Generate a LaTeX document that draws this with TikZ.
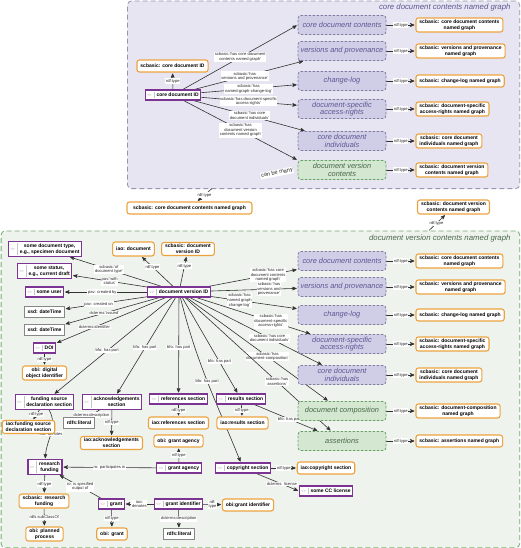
\documentclass[tikz,border=0pt]{standalone}
\usepackage{fontspec}
\setmainfont{Liberation Sans}
\usetikzlibrary{arrows,positioning}

\definecolor{purp}{RGB}{124,52,146}
\definecolor{orng}{RGB}{236,163,62}
\definecolor{litgray}{RGB}{135,135,135}
\definecolor{ngfill}{RGB}{208,205,230}
\definecolor{ngdraw}{RGB}{128,124,165}
\definecolor{ngtext}{RGB}{92,86,148}
\definecolor{gfill}{RGB}{212,231,208}
\definecolor{gdraw}{RGB}{102,163,102}
\definecolor{gtext}{RGB}{72,104,72}
\definecolor{topbg}{RGB}{230,229,241}
\definecolor{topline}{RGB}{150,147,176}
\definecolor{botbg}{RGB}{239,243,238}
\definecolor{botline}{RGB}{112,172,112}
\definecolor{wire}{RGB}{50,50,50}
\definecolor{icogray}{RGB}{160,160,160}

\newcommand\boxfont{\fontsize{5}{5.8}\selectfont\bfseries}
\newcommand\grfont{\fontsize{7.4}{7.6}\selectfont\itshape}
\newcommand\labfont{\fontsize{4.1}{4.6}\selectfont}
\newcommand\ttlfont{\fontsize{7.8}{8}\selectfont\itshape}
\newcommand\indivtext[1]{{\color{icogray}\fontsize{3.8}{4}\selectfont\mdseries<>}\hspace{2pt}{\color{icogray!60}\vrule width .4pt}\hspace{2.4pt}\begin{tabular}{@{}c@{}}#1\end{tabular}}

\pgfdeclarelayer{bg}
\pgfdeclarelayer{wires}
\pgfsetlayers{bg,wires,main}

\begin{document}
\begin{tikzpicture}[->,>=stealth',shorten >=1pt,x=1pt,y=-1pt]
 \tikzstyle{klass}=[draw=orng,line width=1.1pt,rounded corners=2.5pt,fill=white,text=black,
   font=\boxfont,align=center,inner xsep=3.5pt,inner ysep=1.8pt,minimum height=12pt]
 \tikzstyle{indiv}=[draw=purp,line width=1.1pt,fill=white,text=black,font=\boxfont,
   inner xsep=2pt,inner ysep=1.4pt,minimum height=10pt]
 \tikzstyle{literal}=[draw=litgray,line width=0.9pt,fill=white,text=black,font=\boxfont,
   inner xsep=3pt,minimum height=10.5pt]
 \tikzstyle{ngraph}=[draw=ngdraw,dash pattern=on 2.5pt off 1.5pt,line width=0.8pt,
   rounded corners=3pt,fill=ngfill,text=ngtext,font=\grfont,align=center,
   minimum width=88pt,minimum height=19pt,inner sep=1pt]
 \tikzstyle{ngreen}=[ngraph,draw=gdraw,fill=gfill,text=gtext]
 \tikzstyle{elab}=[fill=white,text=black!85,font=\labfont,align=center,inner sep=0.7pt]
 \tikzstyle{every edge}=[draw=wire,line width=0.6pt]
 \useasboundingbox (0,0) rectangle (520,548);

 % core document contents named graph
 \node[klass] (cdit) at (172.5,66) {scbasic: core document ID};
 \node[indiv] (cdi) at (173,95) {\indivtext{core document ID}};
 \node[ngraph] (tA) at (342,25) {core document contents};
 \node[ngraph] (tB) at (342,51) {versions and provenance};
 \node[ngraph] (tC) at (342,81) {change-log};
 \node[ngraph] (tD) at (342,109) {document-specific\\access-rights};
 \node[ngraph] (tE) at (342,141) {core document\\individuals};
 \node[ngreen] (tF) at (342,170) {document version\\contents};
 \node[klass,right=29pt of tA] (tAt) {scbasic: core document contents\\named graph};
 \node[klass,right=29pt of tB] (tBt) {scbasic: versions and provenance\\named graph};
 \node[klass,right=29pt of tC] (tCt) {scbasic: change-log named graph};
 \node[klass,right=29pt of tD] (tDt) {scbasic: document-specific\\access-rights named graph};
 \node[klass,right=29pt of tE] (tEt) {scbasic: core document\\individuals named graph};
 \node[klass,right=29pt of tF] (tFt) {scbasic: document version\\contents named graph};
 \node[elab,rotate=11,font=\fontsize{5.6}{6}\selectfont] (many) at (277,173) {can be many};
 \node[anchor=east,font=\ttlfont,text=ngtext] (toptitle) at (514,7) {core document contents named graph};

 \node[klass,minimum width=125pt] (cdcgt) at (189.5,208) {scbasic: core document contents named graph};
 \node[klass] (dvcgt) at (453.5,207) {scbasic: document version\\contents named graph};
 \coordinate (topfoot) at (212,188.5);
 \coordinate (bothead) at (429,230.5);

 % document version contents named graph
 \node[anchor=east,font=\ttlfont,text=gtext] (bottitle) at (514,238) {document version contents named graph};
 \node[indiv] (dv) at (179,292) {\indivtext{document version ID}};
 \node[indiv] (doctype) at (45,249) {\indivtext{some document type,\\e.g., specimen document}};
 \node[klass,minimum height=14pt] (iaodoc) at (133.5,249) {iao: document};
 \node[klass] (scdv) at (188,249) {scbasic: document\\version ID};
 \node[indiv] (status) at (44.5,271) {\indivtext{some status,\\e.g., current draft}};
 \node[indiv] (user) at (44.5,292) {\indivtext{some user}};
 \node[literal] (dt1) at (44.5,312) {xsd: dateTime};
 \node[literal] (dt2) at (44.5,330) {xsd: dateTime};
 \node[indiv] (doi) at (44.5,348) {\indivtext{DOI}};
 \node[klass] (obidoi) at (44.5,373) {obi: digital\\object identifier};

 \node[ngraph] (bA) at (342,261) {core document contents};
 \node[ngraph] (bB) at (342,287) {versions and provenance};
 \node[ngraph] (bC) at (342,315) {change-log};
 \node[ngraph] (bD) at (342,344) {document-specific\\access-rights};
 \node[ngraph] (bE) at (342,375) {core document\\individuals};
 \node[ngreen] (bF) at (342,411) {document composition};
 \node[ngreen] (bG) at (342,441) {assertions};
 \node[klass,right=29pt of bA] (bAt) {scbasic: core document contents\\named graph};
 \node[klass,right=29pt of bB] (bBt) {scbasic: versions and provenance\\named graph};
 \node[klass,right=29pt of bC] (bCt) {scbasic: change-log named graph};
 \node[klass,right=29pt of bD] (bDt) {scbasic: document-specific\\access-rights named graph};
 \node[klass,right=29pt of bE] (bEt) {scbasic: core document\\individuals named graph};
 \node[klass,right=29pt of bF] (bFt) {scbasic: document-composition\\named graph};
 \node[klass,right=29pt of bG] (bGt) {scbasic: assertions named graph};

 \node[indiv] (fsds) at (44.5,402) {\indivtext{funding source\\declaration section}};
 \node[indiv] (ack) at (112,402) {\indivtext{acknowledgements\\section}};
 \node[indiv] (refs) at (178.5,399) {\indivtext{references section}};
 \node[indiv] (res) at (241,399) {\indivtext{results section}};
 \node[klass] (iaofsds) at (28.5,427) {iao:funding source\\declaration section};
 \node[literal] (lit1) at (79,423) {rdfs:literal};
 \node[klass] (iaoack) at (111.5,443) {iao:acknowledgements\\section};
 \node[klass] (iaorefs) at (178.5,423) {iao:references section};
 \node[klass] (iaores) at (242.5,423) {iao:results section};
 \node[klass] (obiga) at (178.5,441) {obi: grant agency};
 \node[indiv] (ga) at (179,468) {\indivtext{grant agency}};
 \node[indiv] (rf) at (45,467) {\indivtext{research\\funding}};
 \node[indiv] (copy) at (243,468) {\indivtext{copyright section}};
 \node[klass] (iaocopy) at (326,468) {iao:copyright section};
 \node[indiv] (cc) at (326,491) {\indivtext{some CC license}};
 \node[klass] (scrf) at (44,501) {scbasic: research\\funding};
 \node[indiv] (grant) at (111.5,504) {\indivtext{grant}};
 \node[indiv] (gid) at (178.5,504) {\indivtext{grant identifier}};
 \node[klass] (obigid) at (248,505) {obi:grant identifier};
 \node[klass] (opp) at (44.5,534) {obi: planned\\process};
 \node[klass] (obigrant) at (112,534) {obi: grant};
 \node[literal] (lit2) at (179,534) {rdfs:literal};

 \begin{pgfonlayer}{bg}
  \node[draw=topline,fill=topbg,dash pattern=on 5pt off 3pt,line width=0.8pt,rounded corners=4pt,
    minimum width=392.3pt,minimum height=187.6pt,anchor=north west] (topg) at (127,0.6) {};
  \node[draw=botline,fill=botbg,dash pattern=on 5pt off 3pt,line width=0.8pt,rounded corners=4pt,
    minimum width=518.6pt,minimum height=316.8pt,anchor=north west] (botg) at (0.7,230.5) {};
 \end{pgfonlayer}

 \begin{pgfonlayer}{wires}
 \path (cdi) edge node[elab] {rdf:type} (cdit)
   edge node[elab,pos=.5] {scbasic:'has core document\\contents named graph'} (tA.west)
   edge node[elab,pos=.46] {scbasic:'has\\versions and provenance'} (tB)
   edge node[elab,pos=.49] {scbasic:'has\\named-graph-change-log'} (tC)
   edge node[elab,pos=.49] {scbasic:'has document-specific\\access-rights'} (tD)
   edge node[elab,pos=.5] {scbasic:'has core\\document individuals'} (tE)
   edge node[elab,pos=.5] {scbasic:'has\\document version\\contents named graph'} (tF.north west);
 \path (tA) edge node[elab] {rdf:type} (tAt)
  (tB) edge node[elab] {rdf:type} (tBt)
  (tC) edge node[elab] {rdf:type} (tCt)
  (tD) edge node[elab] {rdf:type} (tDt)
  (tE) edge node[elab] {rdf:type} (tEt)
  (tF) edge node[elab] {rdf:type} (tFt);
 \path (topfoot) edge node[elab] {rdf:type} (cdcgt)
  (bothead) edge node[elab,pos=.45] {rdf:type} (dvcgt);

 \path (dv) edge node[elab,pos=.57] {scbasic:'of\\document type'} (doctype)
   edge node[elab,pos=.5] {pav:'with\\status'} (status)
   edge node[elab,pos=.54] {pav: created by} (user)
   edge node[elab,pos=.59] {pav: created on} (dt1)
   edge node[elab,pos=.58] {dcterms:'issued'} (dt2)
   edge node[elab,pos=.65] {dcterms:identifier} (doi)
   edge node[elab,pos=.65] {rdf:type} (iaodoc)
   edge node[elab,pos=.67] {rdf:type} (scdv)
   edge node[elab,pos=.67] {scbasic:'has core\\document contents\\named graph'} (bA)
   edge node[elab,pos=.67] {scbasic:'has\\versions and\\provenance'} (bB)
   edge node[elab,pos=.33] {scbasic:'has\\named graph\\change-log'} (bC)
   edge node[elab,pos=.65] {scbasic:'has\\document-specific\\access-rights'} (bD)
   edge node[elab,pos=.6] {scbasic:'has core\\document individuals'} (bE)
   edge node[elab,pos=.57] {scbasic:'has\\document-composition'} (bF)
   edge node[elab,pos=.63] {scbasic:'has\\assertions'} (bG)
   edge node[elab,pos=.55] {bfo: has part} (fsds)
   edge node[elab,pos=.52] {bfo: has part} (ack)
   edge node[elab,pos=.52] {bfo: has part} (refs)
   edge node[elab,pos=.67] {bfo: has part} (res)
   edge[out=-76,in=112] node[elab,pos=.5] {bfo: has part} (copy);
 \path (bA) edge node[elab] {rdf:type} (bAt)
  (bB) edge node[elab] {rdf:type} (bBt)
  (bC) edge node[elab] {rdf:type} (bCt)
  (bD) edge node[elab] {rdf:type} (bDt)
  (bE) edge node[elab] {rdf:type} (bEt)
  (bF) edge node[elab] {rdf:type} (bFt)
  (bG) edge node[elab] {rdf:type} (bGt);
 \path (doi) edge node[elab] {rdf:type} (obidoi)
  (fsds) edge node[elab] {rdf:type} (iaofsds)
  (fsds) edge[out=-60,in=88] node[elab,pos=.5] {iao: denotes} (rf)
  (ack) edge node[elab,pos=.7] {dcterms:description} (lit1)
  (ack) edge node[elab] {rdf:type} (iaoack)
  (refs) edge node[elab] {rdf:type} (iaorefs)
  (res) edge node[elab] {rdf:type} (iaores)
  (res) edge node[elab,pos=.55] {bfo: has part} (bG)
  (ga) edge node[elab] {rdf:type} (obiga)
  (ga) edge node[elab] {ro: participates in} (rf)
  (grant) edge node[elab] {ro: is specified\\output of} (rf)
  (rf) edge node[elab] {rdf:type} (scrf)
  (scrf) edge node[elab] {rdfs:subClassOf} (opp)
  (gid) edge node[elab] {iao:\\denotes} (grant)
  (gid) edge node[elab] {rdf:\\type} (obigid)
  (gid) edge node[elab] {dcterms:description} (lit2)
  (grant) edge node[elab] {rdf:type} (obigrant)
  (copy) edge node[elab] {rdf:type} (iaocopy)
  (copy) edge node[elab,pos=.6] {dcterms: license} (cc.west);
 \end{pgfonlayer}
\end{tikzpicture}
\end{document}
